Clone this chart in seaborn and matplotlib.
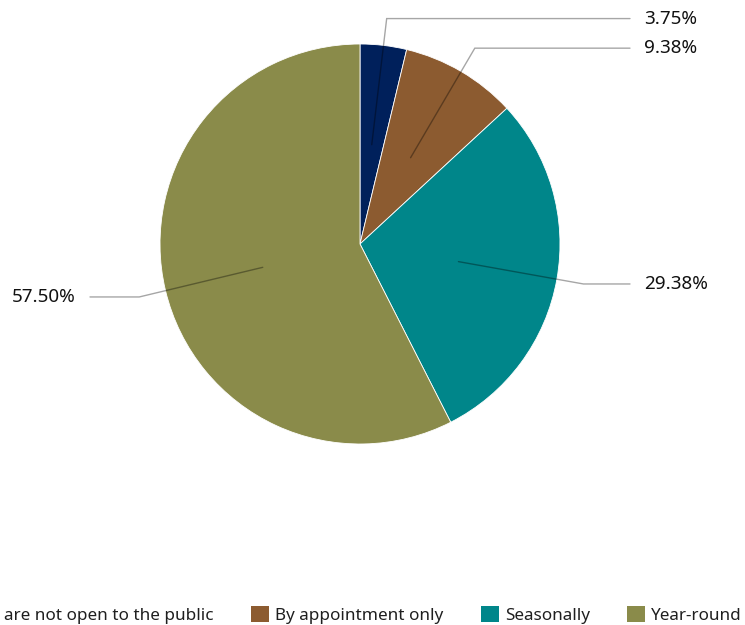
import numpy as np
import matplotlib
matplotlib.use("Agg")
import matplotlib.pyplot as plt
from matplotlib.patches import Patch
import seaborn as sns

# Opening-hours survey shares
categories = ["We are not open to the public", "By appointment only", "Seasonally", "Year-round"]
shares = [3.75, 9.38, 29.38, 57.50]
colors = ["#00205B", "#8C5B30", "#00868A", "#8A8B4A"]

sns.set_theme(style="white")
plt.rcParams["font.family"] = ["Noto Sans", "DejaVu Sans"]

W, H = 745, 625
fig = plt.figure(figsize=(W / 100, H / 100), dpi=100)
cx, cy, r = 360, 244, 200
ax = fig.add_axes([(cx - r) / W, (H - cy - r) / H, 2 * r / W, 2 * r / H])

palette = sns.color_palette(colors)
wedges, _ = ax.pie(shares, colors=palette, startangle=90, counterclock=False,
                   radius=1.0, wedgeprops=dict(linewidth=0.6, edgecolor="white"))
ax.set_xlim(-1, 1)
ax.set_ylim(-1, 1)
ax.set_aspect("equal")
ax.axis("off")

# Leader lines: from half radius, out to an elbow, then horizontal to the label
for w, val in zip(wedges, shares):
    mid = np.deg2rad((w.theta1 + w.theta2) / 2)
    x0, y0 = 0.5 * np.cos(mid), 0.5 * np.sin(mid)
    xe, ye = 1.135 * np.cos(mid), 1.135 * np.sin(mid)
    side = 1 if np.cos(mid) >= 0 else -1
    xh = 1.35 * side
    ax.plot([x0, xe, xh], [y0, ye, ye], color="black", alpha=0.35, lw=1.0,
            clip_on=False, solid_joinstyle="miter")
    ax.text(xh + 0.07 * side, ye, f"{val:.2f}%", fontsize=13.6,
            ha="left" if side > 0 else "right", va="center", color="#111111")

handles = [Patch(facecolor=c, edgecolor="none") for c in palette]
fig.legend(handles, categories, loc="center right", bbox_to_anchor=(742 / W, 1 - 615 / H),
           ncol=4, frameon=False, fontsize=12.3, handlelength=1.05, handleheight=1.05,
           handletextpad=0.35, columnspacing=2.2, borderaxespad=0, borderpad=0,
           labelcolor="#1f1f1f")

fig.savefig("out.png", dpi=100, facecolor="white")
